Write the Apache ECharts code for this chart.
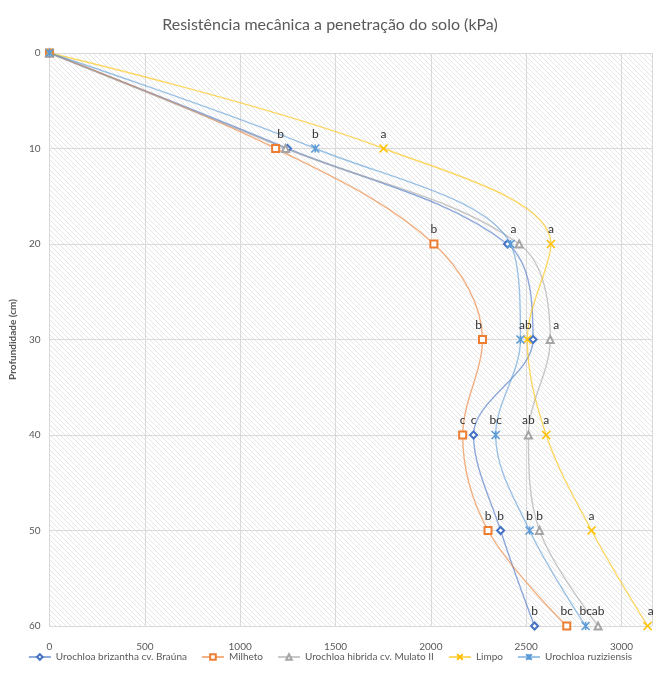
<!DOCTYPE html>
<html>
<head>
<meta charset="utf-8">
<script src="https://cdn.jsdelivr.net/npm/echarts@6/dist/echarts.min.js"></script>
<style>
  html, body { margin: 0; padding: 0; background: #fff; }
  #view { width: 660px; height: 673px; }
</style>
</head>
<body>
<div id="view"></div>
<script>
var font = "Lato, 'Open Sans', sans-serif";

// depth (cm)
var depths = [0, 10, 20, 30, 40, 50, 60];

// resistencia (kPa) per treatment
var brizantha = [0, 1248, 2402, 2536, 2224, 2366, 2544];
var milheto = [0, 1186, 2016, 2271, 2167, 2300, 2713];
var mulato = [0, 1238, 2463, 2626, 2512, 2570, 2877];
var limpo = [0, 1752, 2630, 2506, 2605, 2843, 3137];
var ruziziensis = [0, 1394, 2418, 2470, 2340, 2518, 2812];

// letters (Tukey) shown above points
var brizanthaLbl = ['', '', 'a', '', 'c', 'b', 'b'];
var milhetoLbl = ['', 'b', 'b', 'b', 'c', 'b', 'bc'];
var mulatoLbl = ['', '', '', 'a', 'ab', 'b', 'ab'];
var limpoLbl = ['', 'a', 'a', 'ab', 'a', 'a', 'a'];
var ruziziensisLbl = ['', 'b', '', '', 'bc', 'b', 'bc'];

var xTicks = [0, 500, 1000, 1500, 2000, 2500, 3000];

// hatch fill for the plot area
var hatch = document.createElement('canvas');
hatch.width = 5; hatch.height = 5;
var hc = hatch.getContext('2d');
hc.strokeStyle = '#e0e0e0';
hc.lineWidth = 0.8;
hc.beginPath();
hc.moveTo(-1, -1); hc.lineTo(6, 6);
hc.moveTo(-4, 1); hc.lineTo(4, 9);
hc.moveTo(1, -4); hc.lineTo(9, 4);
hc.stroke();

var xMark = 'path://M0,0L10,10M10,0L0,10';
var starMark = 'path://M0,0L10,10M10,0L0,10M5,0L5,10';

function mk(name, vals, lbls, color, symbol, offsets) {
  var isPath = symbol.indexOf('path') === 0;
  return {
    name: name,
    type: 'line',
    smooth: 0.35,
    symbol: symbol,
    symbolSize: isPath ? 8 : 7,
    showAllSymbol: true,
    lineStyle: { color: color, width: 1.4, opacity: 0.6 },
    itemStyle: { color: color, borderColor: color, borderWidth: isPath ? 1.6 : 1 },
    label: {
      show: true,
      position: 'top',
      distance: 4,
      color: '#333',
      fontSize: 12,
      fontFamily: font,
      formatter: function (p) { return lbls[p.dataIndex]; }
    },
    data: depths.map(function (d, i) {
      var o = { value: [vals[i], d] };
      if (offsets && offsets[i]) o.label = { offset: offsets[i] };
      return o;
    })
  };
}

var myChart = echarts.init(document.getElementById('view'));

option = {
  animation: false,
  textStyle: { fontFamily: font },
  title: {
    text: 'Resistência mecânica a penetração do solo (kPa)',
    left: 'center',
    top: 12,
    textStyle: { fontSize: 16, fontWeight: 'normal', color: '#595959', fontFamily: font }
  },
  legend: {
    bottom: 6,
    left: 'center',
    itemWidth: 22,
    itemHeight: 7,
    itemGap: 14,
    textStyle: { fontSize: 10, color: '#595959', fontFamily: font }
  },
  grid: {
    left: 45, right: 8, top: 53, bottom: 47,
    show: true,
    borderWidth: 0,
    backgroundColor: { image: hatch, repeat: 'repeat' }
  },
  xAxis: {
    type: 'value',
    min: 0,
    max: 3160,
    interval: 500,
    axisLine: { show: false },
    axisTick: { show: false },
    axisLabel: {
      showMaxLabel: false,
      color: '#595959', fontSize: 10, margin: 16,
      formatter: function (v) { return xTicks.indexOf(v) >= 0 ? v : ''; }
    },
    splitLine: { show: true, lineStyle: { color: '#d9d9d9' } }
  },
  yAxis: {
    type: 'value',
    inverse: true,
    min: 0,
    max: 60,
    interval: 10,
    name: 'Profundidade (cm)',
    nameLocation: 'middle',
    nameGap: 21,
    nameTextStyle: { fontSize: 10, fontWeight: 'bold', color: '#595959' },
    axisLine: { show: true, lineStyle: { color: '#d9d9d9' } },
    axisTick: { show: false },
    axisLabel: { color: '#595959', fontSize: 10, margin: 9 },
    splitLine: { show: true, lineStyle: { color: '#d9d9d9' } }
  },
  series: [
    mk('Urochloa brizantha cv. Braúna', brizantha, brizanthaLbl, '#4472C4', 'emptyDiamond', { 2: [6, 0] }),
    mk('Milheto', milheto, milhetoLbl, '#ED7D31', 'emptyRect', { 1: [5, 0], 3: [-4, 0] }),
    mk('Urochloa hibrida cv. Mulato II', mulato, mulatoLbl, '#A5A5A5', 'emptyTriangle', { 3: [6, 0] }),
    mk('Limpo', limpo, limpoLbl, '#FFC000', xMark, { 3: [-2, 0], 6: [3, 0] }),
    mk('Urochloa ruziziensis', ruziziensis, ruziziensisLbl, '#5B9BD5', starMark, null)
  ]
};

myChart.setOption(option);
</script>
</body>
</html>
